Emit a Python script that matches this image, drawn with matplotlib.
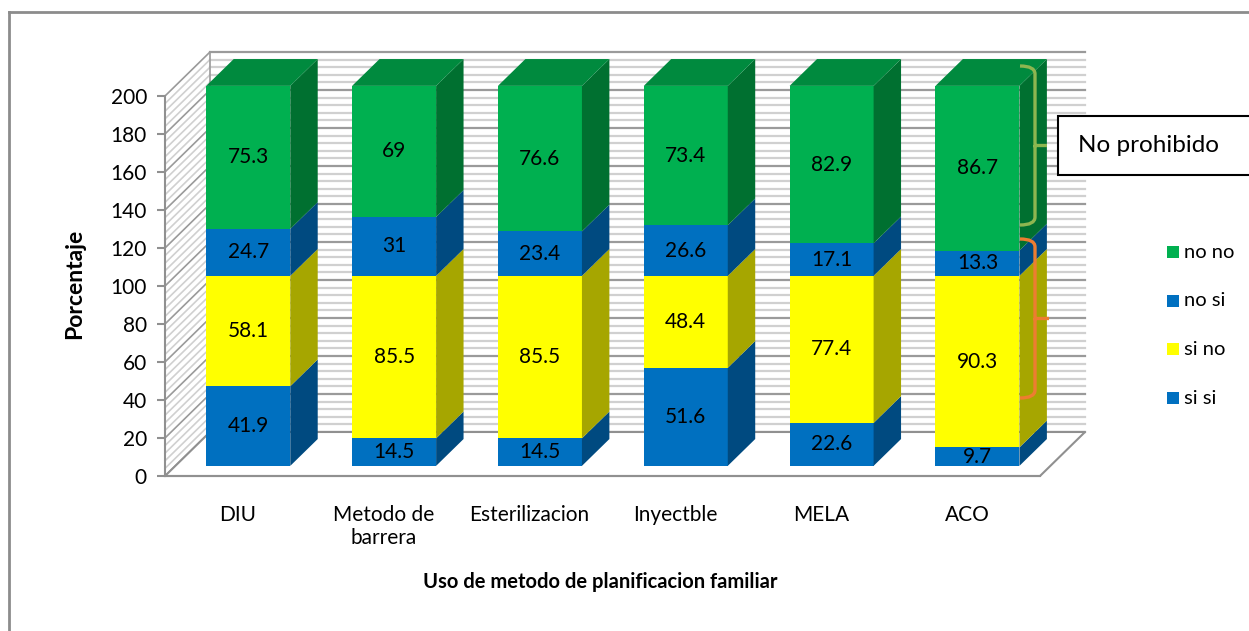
import numpy as np
import matplotlib.pyplot as plt
from matplotlib.patches import Polygon, Rectangle, PathPatch
from matplotlib.path import Path

plt.rcParams['font.family'] = ['Lato', 'DejaVu Sans']

# datos
categorias = ['DIU', 'Metodo de\nbarrera', 'Esterilizacion', 'Inyectble', 'MELA', 'ACO']
si_si = [41.9, 14.5, 14.5, 51.6, 22.6, 9.7]
si_no = [58.1, 85.5, 85.5, 48.4, 77.4, 90.3]
no_si = [24.7, 31, 23.4, 26.6, 17.1, 13.3]
no_no = [75.3, 69, 76.6, 73.4, 82.9, 86.7]

series = [('si si', si_si), ('si no', si_no), ('no si', no_si), ('no no', no_no)]
# (frente, lado, arriba)
colores = {
    'si si': ('#0070C0', '#004A80', '#005A9C'),
    'si no': ('#FFFF00', '#A6A600', '#CCCC00'),
    'no si': ('#0070C0', '#004A80', '#005A9C'),
    'no no': ('#00B050', '#007030', '#008A3E'),
}

W, H = 1249, 631
fig = plt.figure(figsize=(W / 100, H / 100), dpi=100)
ax = fig.add_axes([165 / W, (H - 476) / H, 875 / W, 380 / H])
ax.set_xlim(-0.5, 5.5)
ax.set_ylim(0, 200)
ax.patch.set_visible(False)

# profundidad 3D (unidades de datos)
DXF = 45 / (875 / 6)
DYF = 44 / 1.9
F0, F1 = 0.23, 0.84
BW = 0.576
ddx, ddy = (F1 - F0) * DXF, (F1 - F0) * DYF

# paredes
for v in np.arange(0, 201, 4):
    c = '#9a9a9a' if v % 20 == 0 else '#d0d0d0'
    ax.plot([-0.5 + DXF, 5.5 + DXF], [v + DYF, v + DYF], color=c, lw=1.6, clip_on=False, zorder=1)
    ax.plot([-0.5, -0.5 + DXF], [v, v + DYF], color=c, lw=1.2, clip_on=False, zorder=1)
ax.plot([-0.5 + DXF, -0.5 + DXF], [DYF, 200 + DYF], color='#9a9a9a', lw=1.2, clip_on=False, zorder=1)
ax.add_patch(Polygon([(-0.5, 0), (5.5, 0), (5.5 + DXF, DYF), (-0.5 + DXF, DYF)],
                     facecolor='white', edgecolor='#909090', lw=1.5, clip_on=False, zorder=1.5))

x = np.arange(len(categorias))
cum = np.zeros(len(categorias))
for k, (nombre, vals) in enumerate(series):
    vals = np.array(vals)
    fc, sc, tc = colores[nombre]
    b = cum + F0 * DYF
    ax.bar(x + F0 * DXF, vals, width=BW, bottom=b, color=fc, zorder=3, clip_on=False)
    for i in range(len(x)):
        xr = x[i] + F0 * DXF + BW / 2
        ax.add_patch(Polygon([(xr, b[i]), (xr + ddx, b[i] + ddy), (xr + ddx, b[i] + vals[i] + ddy),
                              (xr, b[i] + vals[i])], facecolor=sc, edgecolor='none', zorder=3, clip_on=False))
        if k == len(series) - 1:
            xl = xr - BW
            t = b[i] + vals[i]
            ax.add_patch(Polygon([(xl, t), (xr, t), (xr + ddx, t + ddy), (xl + ddx, t + ddy)],
                                 facecolor=tc, edgecolor='none', zorder=3, clip_on=False))
        ax.text(x[i] + F0 * DXF, b[i] + vals[i] / 2, f'{vals[i]:g}', ha='center', va='center',
                fontsize=15, color='black', zorder=5)
    cum = cum + vals

for s in ['top', 'right']:
    ax.spines[s].set_visible(False)
ax.spines['left'].set_color('#909090')
ax.spines['bottom'].set_color('#909090')
ax.spines['left'].set_linewidth(1.5)
ax.spines['bottom'].set_linewidth(1.5)
ax.set_yticks(range(0, 201, 20))
ax.tick_params(axis='y', length=6, width=1.5, color='#909090', labelsize=15, pad=7)
ax.set_xticks(x, categorias)
ax.tick_params(axis='x', length=0, labelsize=15, pad=21)

fig.text(75 / W, 1 - 284 / H, 'Porcentaje', rotation=90, fontsize=16.5, fontweight='bold',
         ha='center', va='center')
fig.text(600 / W, 1 - 582 / H, 'Uso de metodo de planificacion familiar', fontsize=14.5,
         fontweight='bold', ha='center', va='center')

# leyenda
for j, (nombre, vals) in enumerate(series[::-1]):
    yp = 252 + j * 48.7
    fig.patches.append(Rectangle((1167 / W, 1 - (yp + 6) / H), 12 / W, 12 / H,
                                 facecolor=colores[nombre][0], transform=fig.transFigure))
    fig.text(1184 / W, 1 - yp / H, nombre, fontsize=14.5, ha='left', va='center')

# cuadro de texto
fig.patches.append(Rectangle((1058 / W, 1 - 175 / H), 220 / W, 59 / H, facecolor='white',
                             edgecolor='black', lw=1.5, transform=fig.transFigure))
fig.text(1078 / W, 1 - 145 / H, 'No prohibido', fontsize=17.5, ha='left', va='center')


def llave(xl, xm, xt, yt, yb, color):
    ym = (yt + yb) / 2
    r = 8
    pts = [(xl, yt), (xm, yt), (xm, yt + r), (xm, ym - 2), (xm, ym), (xt, ym),
           (xm, ym), (xm, ym + 2), (xm, yb - r), (xm, yb), (xl, yb)]
    codes = [Path.MOVETO, Path.CURVE3, Path.CURVE3, Path.LINETO, Path.LINETO, Path.LINETO,
             Path.MOVETO, Path.LINETO, Path.LINETO, Path.CURVE3, Path.CURVE3]
    pts = [(px / W, 1 - py / H) for px, py in pts]
    fig.patches.append(PathPatch(Path(pts, codes), facecolor='none', edgecolor=color, lw=2.4,
                                 transform=fig.transFigure))


llave(1020, 1035, 1047, 66, 225, '#8DB650')
llave(1020, 1035, 1049, 239, 398, '#ED7D31')

# borde del grafico
fig.lines.append(plt.Line2D([9 / W, 1], [1 - 12 / H, 1 - 12 / H], color='#8c8c8c', lw=2,
                            transform=fig.transFigure))
fig.lines.append(plt.Line2D([9 / W, 9 / W], [0, 1 - 12 / H], color='#8c8c8c', lw=2,
                            transform=fig.transFigure))

fig.savefig('out.png', dpi=100)
